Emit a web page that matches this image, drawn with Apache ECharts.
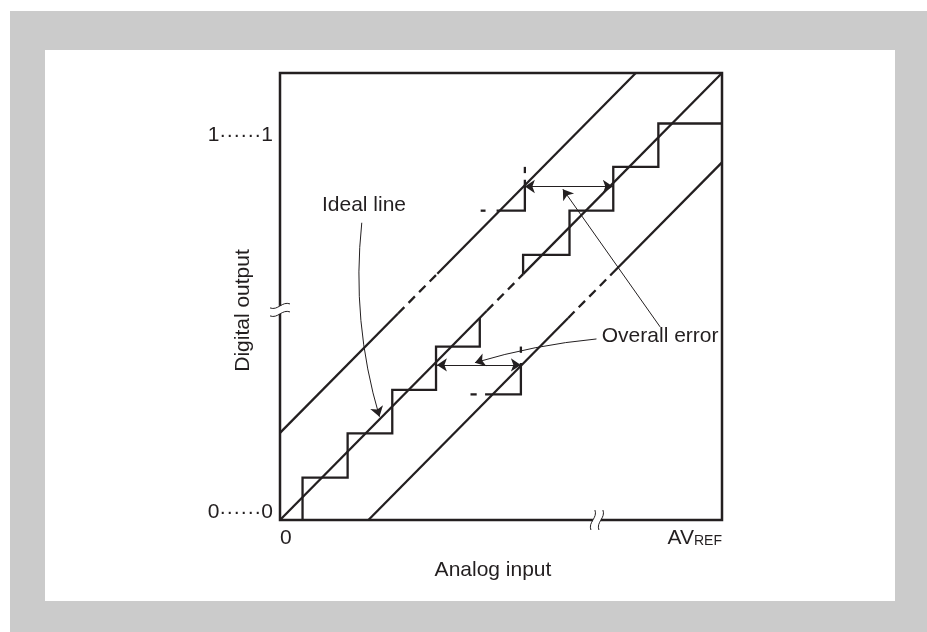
<!DOCTYPE html>
<html><head><meta charset="utf-8">
<script src="https://cdn.jsdelivr.net/npm/echarts@6/dist/echarts.min.js"></script>
<style>
html,body{margin:0;padding:0;background:#fff;}
#frame{position:absolute;left:10px;top:11px;width:917px;height:621px;background:#cbcbcb;}
#panel{position:absolute;left:45px;top:50px;width:850px;height:551px;background:#fff;}
#chart{position:absolute;left:0;top:0;width:927px;height:632px;}
</style></head>
<body><div id="frame"></div><div id="panel"></div><div id="chart"></div>
<script>
// ---- data (x: analog input in LSB-ish units 0..10, y: digital output units 0..10) ----
const xTickValues = [0, 10];
const xTickLabels = ['0', 'AVREF'];
const yTickValues = [0.17, 8.6];
const yTickLabels = ['0······0', '1······1'];

const idealSolidA = [[0, 0], [4.68, 4.68]];
const idealDash   = [[4.68, 4.68], [5.5, 5.5]];
const idealSolidB = [[5.5, 5.5], [10, 10]];

const upperSolidA = [[0, 1.95], [2.67, 4.62]];
const upperDash   = [[2.67, 4.62], [3.56, 5.51]];
const upperSolidB = [[3.56, 5.51], [8.05, 10]];

const lowerSolidA = [[2, 0], [6.52, 4.52]];
const lowerDash   = [[6.52, 4.52], [7.47, 5.47]];
const lowerSolidB = [[7.47, 5.47], [10, 8]];

const stairLow = [[0.51, 0], [0.51, 0.95], [1.53, 0.95], [1.53, 1.94], [2.54, 1.94], [2.54, 2.91],
                  [3.53, 2.91], [3.53, 3.88], [4.52, 3.88], [4.52, 4.52]];
const stairHigh = [[5.5, 5.5], [5.5, 5.93], [6.55, 5.93], [6.55, 6.92], [7.54, 6.92], [7.54, 7.9],
                   [8.56, 7.9], [8.56, 8.87], [10, 8.87]];

const upperStubDash  = [[4.54, 6.92], [4.65, 6.92]];
const upperStubSolid = [[4.9, 6.92], [5.54, 6.92], [5.54, 7.61]];
const upperStubTick  = [[5.54, 7.76], [5.54, 7.9]];
const lowerStubDash  = [[4.31, 2.81], [4.45, 2.81]];
const lowerStubSolid = [[4.64, 2.81], [5.45, 2.81], [5.45, 3.51]];
const lowerStubTick  = [[5.45, 3.74], [5.45, 3.88]];

const errUpper = [[5.54, 7.46], [7.53, 7.46]];
const errLower = [[3.55, 3.47], [5.45, 3.47]];

const leaderIdeal = [[1.85, 6.65], [2.25, 2.31]];
const leaderErrLow = [[7.16, 4.05], [4.41, 3.52]];
const leaderErrUp = [[8.6, 4.32], [6.4, 7.4]];

const labelTexts = ['Ideal line', 'Overall error'];
const labelPoints = [[1.9, 7.05], [7.28, 4.12]];
const labelAligns = ['center', 'left'];

const breakMarks = [[7.17, 0, 0], [0, 4.7, 1]];

// ---- chart ----
const INK = '#231f20';
const FONT = "'Liberation Sans', Arial, Helvetica, sans-serif";
const chart = echarts.init(document.getElementById('chart'), null, {renderer: 'canvas'});

function solid(d) {
  return {type: 'line', data: d, symbol: 'none', silent: true, animation: false, clip: false,
          lineStyle: {color: INK, width: 2.3, cap: 'butt', join: 'miter'}, z: 3};
}
function dashed(d) {
  return {type: 'line', data: d, symbol: 'none', silent: true, animation: false, clip: false,
          lineStyle: {color: INK, width: 2.3, type: [9, 6], cap: 'butt'}, z: 3};
}

const option = {
  animation: false,
  backgroundColor: 'transparent',
  textStyle: {fontFamily: FONT},
  grid: {left: 280, top: 73, width: 442, height: 447, show: true, borderColor: INK, borderWidth: 2.5,
         backgroundColor: 'transparent', containLabel: false},
  xAxis: {
    type: 'value', min: 0, max: 10,
    axisLine: {show: false}, axisTick: {show: false}, splitLine: {show: false},
    axisLabel: {
      customValues: xTickValues, margin: 8, color: INK, fontSize: 21, fontFamily: FONT,
      alignMinLabel: 'left', alignMaxLabel: 'right',
      formatter: function (v) {
        const i = xTickValues.indexOf(v);
        const t = xTickLabels[i];
        return t === 'AVREF' ? '{a|AV}{b|REF}' : t;
      },
      rich: {a: {fontSize: 21, color: INK, fontFamily: FONT, verticalAlign: 'bottom'},
             b: {fontSize: 14, color: INK, fontFamily: FONT, verticalAlign: 'bottom', padding: [0, 0, 1, 0]}}
    },
    name: 'Analog input', nameLocation: 'middle', nameGap: 40, nameMoveOverlap: false,
    nameTextStyle: {fontSize: 21, color: INK, fontFamily: FONT, padding: [0, 16, 0, 0]}
  },
  yAxis: {
    type: 'value', min: 0, max: 10,
    axisLine: {show: false}, axisTick: {show: false}, splitLine: {show: false},
    axisLabel: {
      customValues: yTickValues, margin: 7, color: INK, fontSize: 21, fontFamily: FONT,
      formatter: function (v) { return yTickLabels[yTickValues.indexOf(v)]; }
    },
    name: 'Digital output', nameLocation: 'middle', nameGap: 26, nameRotate: 90, nameMoveOverlap: false,
    nameTextStyle: {fontSize: 21, color: INK, fontFamily: FONT, padding: [0, 28, 0, 0]}
  },
  series: [
    solid(idealSolidA), dashed(idealDash), solid(idealSolidB),
    solid(upperSolidA), dashed(upperDash), solid(upperSolidB),
    solid(lowerSolidA), dashed(lowerDash), solid(lowerSolidB),
    solid(stairLow), solid(stairHigh),
    solid(upperStubDash), solid(upperStubSolid), solid(upperStubTick),
    solid(lowerStubDash), solid(lowerStubSolid), solid(lowerStubTick),
    {
      type: 'lines', coordinateSystem: 'cartesian2d', silent: true, animation: false, z: 4,
      symbol: ['arrow', 'arrow'], symbolSize: 10,
      lineStyle: {color: INK, width: 1, opacity: 1},
      data: [{coords: errUpper}, {coords: errLower}]
    },
    {
      type: 'lines', coordinateSystem: 'cartesian2d', silent: true, animation: false, z: 4,
      symbol: ['none', 'arrow'], symbolSize: 10,
      lineStyle: {color: INK, width: 1, opacity: 1},
      data: [
        {coords: leaderIdeal, lineStyle: {curveness: -0.1}},
        {coords: leaderErrLow, lineStyle: {curveness: -0.05}},
        {coords: leaderErrUp, lineStyle: {curveness: 0}}
      ]
    },
    {
      type: 'custom', silent: true, animation: false, z: 5, clip: false,
      data: labelPoints.map(function (p, i) { return [p[0], p[1], i]; }),
      renderItem: function (params, api) {
        const i = api.value(2);
        const p = api.coord([api.value(0), api.value(1)]);
        return {type: 'text', x: p[0], y: p[1],
                style: {text: labelTexts[i], fill: INK, font: '21px ' + FONT,
                        align: labelAligns[i], verticalAlign: 'middle'}};
      }
    },
    {
      type: 'custom', silent: true, animation: false, z: 6, clip: false,
      data: breakMarks,
      renderItem: function (params, api) {
        const p = api.coord([api.value(0), api.value(1)]);
        const vertical = api.value(2) === 0; // break on x axis: strokes vertical
        const g = 4, h = 10, b = 5;
        const sty = {stroke: INK, lineWidth: 1, fill: null};
        const ch = [];
        if (vertical) {
          ch.push({type: 'rect', shape: {x: p[0] - g, y: p[1] - 3, width: 2 * g, height: 6}, style: {fill: '#fff'}});
          [-g, g].forEach(function (o) {
            ch.push({type: 'bezierCurve', shape: {x1: p[0] + o + 2, y1: p[1] - h, x2: p[0] + o - 2, y2: p[1] + h,
              cpx1: p[0] + o + b, cpy1: p[1] - 2, cpx2: p[0] + o - b, cpy2: p[1] + 2}, style: sty});
          });
        } else {
          ch.push({type: 'rect', shape: {x: p[0] - 3, y: p[1] - g, width: 6, height: 2 * g}, style: {fill: '#fff'}});
          [-g, g].forEach(function (o) {
            ch.push({type: 'bezierCurve', shape: {x1: p[0] - h, y1: p[1] + o + 2, x2: p[0] + h, y2: p[1] + o - 2,
              cpx1: p[0] - 2, cpy1: p[1] + o + b, cpx2: p[0] + 2, cpy2: p[1] + o - b}, style: sty});
          });
        }
        return {type: 'group', children: ch};
      }
    }
  ]
};
chart.setOption(option);
</script>
</body></html>
